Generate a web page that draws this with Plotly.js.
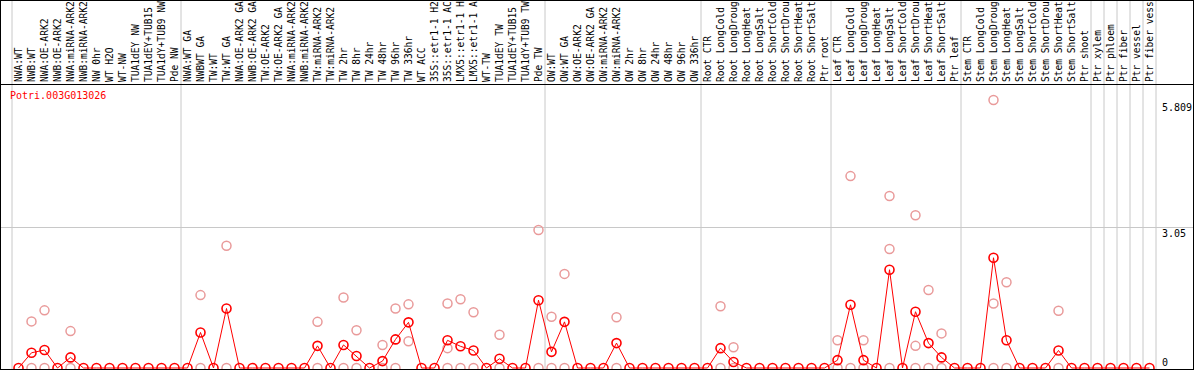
<!DOCTYPE html>
<html>
<head>
<meta charset="utf-8">
<script src="https://cdn.plot.ly/plotly-3.0.1.min.js"></script>
<style>
  html, body { margin: 0; padding: 0; background: #fff; }
  #wrap { position: absolute; left: 0; top: 0; width: 1192px; height: 368px; border: 1px solid #000; overflow: hidden; }
  #chart { width: 1192px; height: 368px; }
</style>
</head>
<body>
<div id="wrap"><div id="chart"></div></div>
<script>
// ---- data ----
const geneId = "Potri.003G013026";

// sample labels as visible in the chart header
const labels = [
  "NWA:WT","NWB:WT","NWA:OE-ARK2","NWB:OE-ARK2","NWA:miRNA-ARK2","NWB:miRNA-ARK2","NW 0hr","WT H2O","WT-NW","TUA1dEY NW","TUA1dEY+TUB15","TUA1dY+TUB9 NW","Pde NW",
  "NWA:WT GA","NWBWT GA","TW:WT","TW:WT GA","NWA:OE-ARK2 GA","NWB:OE-ARK2 GA","TW:OE-ARK2","TW:OE-ARK2 GA","NWA:miRNA-ARK2","NWB:miRNA-ARK2","TW:miRNA-ARK2","TW:miRNA-ARK2","TW 2hr","TW 8hr","TW 24hr","TW 48hr","TW 96hr","TW 336hr","WT ACC","35S::etr1-1 H2","35S::etr1-1 AC","LMX5::etr1-1 H","LMX5::etr1-1 A","WT-TW","TUA1dEY TW","TUA1dEY+TUB15","TUA1dY+TUB9 TW","Pde TW",
  "OW:WT","OW:WT GA","OW:OE-ARK2","OW:OE-ARK2 GA","OW:miRNA-ARK2","OW:miRNA-ARK2","OW 2hr","OW 8hr","OW 24hr","OW 48hr","OW 96hr","OW 336hr",
  "Root CTR","Root LongCold","Root LongDroug","Root LongHeat","Root LongSalt","Root ShortCold","Root ShortDrou","Root ShortHeat","Root ShortSalt","Ptr root",
  "Leaf CTR","Leaf LongCold","Leaf LongDroug","Leaf LongHeat","Leaf LongSalt","Leaf ShortCold","Leaf ShortDrou","Leaf ShortHeat","Leaf ShortSalt","Ptr leaf",
  "Stem CTR","Stem LongCold","Stem LongDroug","Stem LongHeat","Stem LongSalt","Stem ShortCold","Stem ShortDrou","Stem ShortHeat","Stem ShortSalt","Ptr shoot",
  "Ptr xylem","Ptr phloem","Ptr fiber","Ptr vessel","Ptr fiber vess"
];

const groupSizes = [13, 28, 12, 10, 10, 10, 1, 1, 1, 1, 1];

// mean expression (red line)
const meanValues = [
  0, 0.33, 0.39, 0, 0.23, 0, 0, 0, 0, 0, 0, 0, 0,
  0, 0.77, 0, 1.29, 0, 0, 0, 0, 0, 0, 0.48, 0, 0.50, 0.26, 0, 0.15, 0.62, 0.99, 0, 0, 0.60, 0.47, 0.38, 0, 0.20, 0, 0, 1.47,
  0.35, 1.00, 0, 0, 0, 0.54, 0, 0, 0, 0, 0, 0,
  0, 0.43, 0.13, 0, 0, 0, 0, 0, 0, 0,
  0.17, 1.37, 0.17, 0, 2.13, 0, 1.22, 0.54, 0.23, 0,
  0, 0, 2.39, 0.60, 0, 0, 0, 0.38, 0, 0,
  0, 0, 0, 0, 0
];

// individual replicates (pink circles): category index and value
const repIndex = [
  1,1, 2,2, 4,4, 14,14, 16,16, 23,23, 25,25, 26,26, 28,28, 29,29, 30,30, 33,33,33, 34,34, 35,35, 37,37, 40,40,
  41,41, 42,42, 46,46, 54,54, 55,55, 63,63, 64,64, 65,65, 67,67,67, 69,69,69, 70,70, 71,71, 75,75,75, 76,76, 80,80
];
const repValues = [
  1.01,0, 1.25,0, 0.80,0, 1.58,0, 2.65,0, 1.00,0, 1.53,0, 0.82,0, 0.50,0, 1.29,0, 1.38,0.58, 1.40,0.43,0, 1.49,0, 1.21,0, 0.72,0, 2.99,0,
  1.11,0, 2.04,0, 1.10,0, 1.34,0, 0.45,0, 0.60,0, 4.16,0, 0.60,0, 3.73,2.58,0, 3.31,0.48,0, 1.69,0, 0.75,0, 5.809,1.40,0, 1.86,0, 1.24,0
];

const axisMarks = [0, 3.05, 5.809];

// ---- chart ----
const idx = labels.map((_, i) => i);
const mono = "DejaVu Sans Mono, Liberation Mono, monospace";

const boundaries = [-0.5];
let acc = 0;
groupSizes.forEach(s => { acc += s; boundaries.push(acc - 0.5); });

const shapes = boundaries.map(b => ({
  type: 'line', xref: 'x', yref: 'paper', x0: b, x1: b, y0: 0, y1: 1.5,
  line: { color: '#c8c8c8', width: 1 }, layer: 'below'
}));

const annotations = [
  { text: geneId, xref: 'paper', yref: 'paper', x: 0.006, y: 1, xanchor: 'left', yanchor: 'top',
    yshift: -3, showarrow: false, font: { family: mono, size: 10, color: '#ff0000' } }
].concat(axisMarks.map(v => ({
  text: String(v), xref: 'paper', yref: 'y', x: 0.9722, y: v, xanchor: 'left',
  yanchor: v === 0 ? 'bottom' : 'top', yshift: v === 0 ? -2 : (v === 3.05 ? 1 : 0),
  showarrow: false, font: { family: mono, size: 10, color: '#000' }
})));

const traces = [
  { x: repIndex, y: repValues, type: 'scatter', mode: 'markers', hoverinfo: 'skip',
    marker: { symbol: 'circle-open', size: 9, color: '#e99a9a', line: { width: 1.5, color: '#e99a9a' } } },
  { x: idx, y: meanValues, type: 'scatter', mode: 'lines+markers',
    line: { color: '#ff0000', width: 1 },
    marker: { symbol: 'circle-open', size: 9, color: '#ff0000', line: { width: 1.6, color: '#ff0000' } } }
];

const layout = {
  width: 1192, height: 368,
  margin: { l: 0, r: 0, t: 84, b: 0, pad: 0 },
  paper_bgcolor: '#fff', plot_bgcolor: '#fff',
  showlegend: false,
  xaxis: {
    range: [-17.5 / 13, (1192 - 17.5) / 13],
    side: 'top', tickmode: 'array', tickvals: idx, ticktext: labels,
    tickangle: -90, ticks: '', showgrid: false, zeroline: false,
    showline: true, linecolor: '#000', linewidth: 1,
    tickfont: { family: mono, size: 9.6, color: '#000' }
  },
  yaxis: {
    range: [-1 / 46.13, 283 / 46.13],
    tickmode: 'array', tickvals: [3.05], showticklabels: false,
    showgrid: true, gridcolor: '#c8c8c8', gridwidth: 1, zeroline: false, showline: false, ticks: ''
  },
  shapes: shapes,
  annotations: annotations
};

Plotly.newPlot('chart', traces, layout, { staticPlot: true, displayModeBar: false });
</script>
</body>
</html>
